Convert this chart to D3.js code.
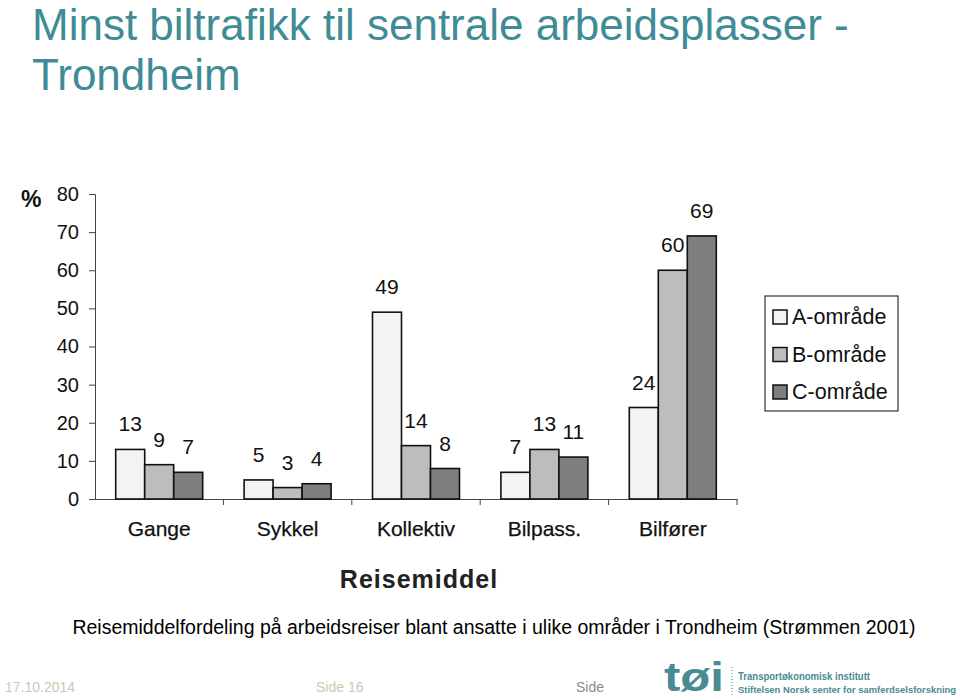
<!DOCTYPE html>
<html>
<head>
<meta charset="utf-8">
<script src="https://cdn.jsdelivr.net/npm/d3@7"></script>
<style>
  body { margin: 0; background: #fff; }
  svg text { font-family: "Liberation Sans", Arial, sans-serif; }
</style>
</head>
<body>
<div id="chart"></div>
<script>
// Data
var kategorier = ["Gange", "Sykkel", "Kollektiv", "Bilpass.", "Bilfører"];
var omrader = ["A-område", "B-område", "C-område"];
var verdierA = [13, 5, 49, 7, 24];
var verdierB = [9, 3, 14, 13, 60];
var verdierC = [7, 4, 8, 11, 69];
var yTicks = [0, 10, 20, 30, 40, 50, 60, 70, 80];
var farger = ["#f3f3f3", "#bdbdbd", "#7e7e7e"];

var W = 960, H = 700;
var margin = {top: 194, left: 95, right: 223, bottom: 201};
var width = W - margin.left - margin.right;
var height = H - margin.top - margin.bottom;

var svg = d3.select("#chart").append("svg")
    .attr("width", W)
    .attr("height", H);

svg.append("rect").attr("width", W).attr("height", H).attr("fill", "white");

// Tittel
var tittel = svg.append("text")
    .attr("fill", "#3f8c96")
    .style("font-size", "44px");
tittel.append("tspan").attr("x", 32).attr("y", 40).text("Minst biltrafikk til sentrale arbeidsplasser -");
tittel.append("tspan").attr("x", 32).attr("y", 90).text("Trondheim");

var g = svg.append("g")
    .attr("transform", "translate(" + margin.left + "," + margin.top + ")");

// Skalaer
var x0 = d3.scaleBand()
    .domain(kategorier)
    .range([0, width])
    .padding(0);

var x1 = d3.scaleBand()
    .domain(omrader)
    .range([0, 87])
    .padding(0);

var y = d3.scaleLinear()
    .domain([0, 80])
    .range([height, 0]);

// Y-akse
var yAxis = d3.axisLeft(y).tickValues(yTicks).tickSize(6).tickPadding(10);
var yAxisG = g.append("g").attr("class", "y-axis").call(yAxis);
yAxisG.select(".domain").attr("stroke", "#444");
yAxisG.selectAll(".tick line").attr("stroke", "#444");
yAxisG.selectAll("text").style("font-size", "20px").attr("fill", "#111");

// X-akse
var xAxis = d3.axisBottom(x0).tickSize(0).tickPadding(22);
var xAxisG = g.append("g").attr("class", "x-axis")
    .attr("transform", "translate(0," + height + ")")
    .call(xAxis);
xAxisG.select(".domain").attr("stroke", "#444").attr("stroke-width", 1.2);
xAxisG.selectAll("text")
    .style("font-size", "21px")
    .attr("fill", "#111")
    .attr("stroke", "#111")
    .attr("stroke-width", 0.25);

// Skillestreker mellom kategorier
var grenser = kategorier.map(function(d) { return x0(d) + x0.bandwidth(); });
g.selectAll(".skille").data(grenser).enter().append("line")
    .attr("class", "skille")
    .attr("x1", function(d) { return d; })
    .attr("x2", function(d) { return d; })
    .attr("y1", height)
    .attr("y2", height + 6)
    .attr("stroke", "#444");

// Stolper
var serier = [verdierA, verdierB, verdierC];
serier.forEach(function(verdier, s) {
    var grp = g.append("g").attr("class", "serie" + s);
    grp.selectAll("rect").data(verdier).enter().append("rect")
        .attr("x", function(d, i) { return x0(kategorier[i]) + (x0.bandwidth() - 87) / 2 + x1(omrader[s]); })
        .attr("y", function(d) { return y(d); })
        .attr("width", x1.bandwidth())
        .attr("height", function(d) { return height - y(d); })
        .attr("fill", farger[s])
        .attr("stroke", "#111")
        .attr("stroke-width", 1.6);

    grp.selectAll("text").data(verdier).enter().append("text")
        .attr("x", function(d, i) { return x0(kategorier[i]) + (x0.bandwidth() - 87) / 2 + x1(omrader[s]) + x1.bandwidth() / 2; })
        .attr("y", function(d) { return y(d) - 18; })
        .attr("text-anchor", "middle")
        .style("font-size", "21px")
        .attr("fill", "#111")
        .text(function(d) { return d; });
});

// Prosenttegn
svg.append("text")
    .attr("x", 21)
    .attr("y", 207)
    .style("font-size", "23px")
    .style("font-weight", "bold")
    .attr("fill", "#111")
    .text("%");

// Aksetittel
svg.append("text")
    .attr("x", margin.left + width / 2 + 3)
    .attr("y", 588)
    .attr("text-anchor", "middle")
    .style("font-size", "25px")
    .style("font-weight", "bold")
    .style("letter-spacing", "1px")
    .attr("fill", "#222")
    .text("Reisemiddel");

// Legende
var legend = svg.append("g").attr("class", "legend")
    .attr("transform", "translate(765,296)");
legend.append("rect")
    .attr("width", 133).attr("height", 115)
    .attr("fill", "white").attr("stroke", "#333").attr("stroke-width", 1.2);
legend.selectAll(".lrute").data(omrader).enter().append("rect")
    .attr("class", "lrute")
    .attr("x", 8)
    .attr("y", function(d, i) { return 14 + i * 37.5; })
    .attr("width", 14).attr("height", 14)
    .attr("fill", function(d, i) { return farger[i]; })
    .attr("stroke", "#111").attr("stroke-width", 1.5);
legend.selectAll(".ltekst").data(omrader).enter().append("text")
    .attr("class", "ltekst")
    .attr("x", 27)
    .attr("y", function(d, i) { return 28 + i * 37.5; })
    .style("font-size", "21.5px")
    .attr("fill", "#111")
    .text(function(d) { return d; });

// Bildetekst
svg.append("text")
    .attr("x", 494)
    .attr("y", 634)
    .attr("text-anchor", "middle")
    .style("font-size", "19.5px")
    .attr("fill", "#000")
    .text("Reisemiddelfordeling på arbeidsreiser blant ansatte i ulike områder i Trondheim (Strømmen 2001)");

// Bunntekst
svg.append("text").attr("x", 5).attr("y", 692)
    .style("font-size", "14px").attr("fill", "#c9c9b4").text("17.10.2014");
svg.append("text").attr("x", 316).attr("y", 692)
    .style("font-size", "14px").attr("fill", "#c9c9b4").text("Side 16");
svg.append("text").attr("x", 576).attr("y", 692)
    .style("font-size", "14px").attr("fill", "#8a8a8a").text("Side");

// Logo
svg.append("text").attr("x", 664).attr("y", 691)
    .style("font-size", "40px").style("font-weight", "bold")
    .attr("textLength", 60).attr("lengthAdjust", "spacingAndGlyphs")
    .attr("fill", "#4a8a95").text("tøi");
svg.append("line")
    .attr("x1", 732).attr("x2", 732).attr("y1", 667).attr("y2", 696)
    .attr("stroke", "#4a8a95").attr("stroke-dasharray", "1,2");
svg.append("text").attr("x", 738).attr("y", 680)
    .style("font-size", "10px").style("font-weight", "bold")
    .attr("textLength", 132).attr("lengthAdjust", "spacingAndGlyphs")
    .attr("fill", "#4a8a95").text("Transportøkonomisk institutt");
svg.append("text").attr("x", 738).attr("y", 693)
    .style("font-size", "9.5px").style("font-weight", "bold")
    .attr("textLength", 218).attr("lengthAdjust", "spacingAndGlyphs")
    .attr("fill", "#4a8a95").text("Stiftelsen Norsk senter for samferdselsforskning");
</script>
</body>
</html>
